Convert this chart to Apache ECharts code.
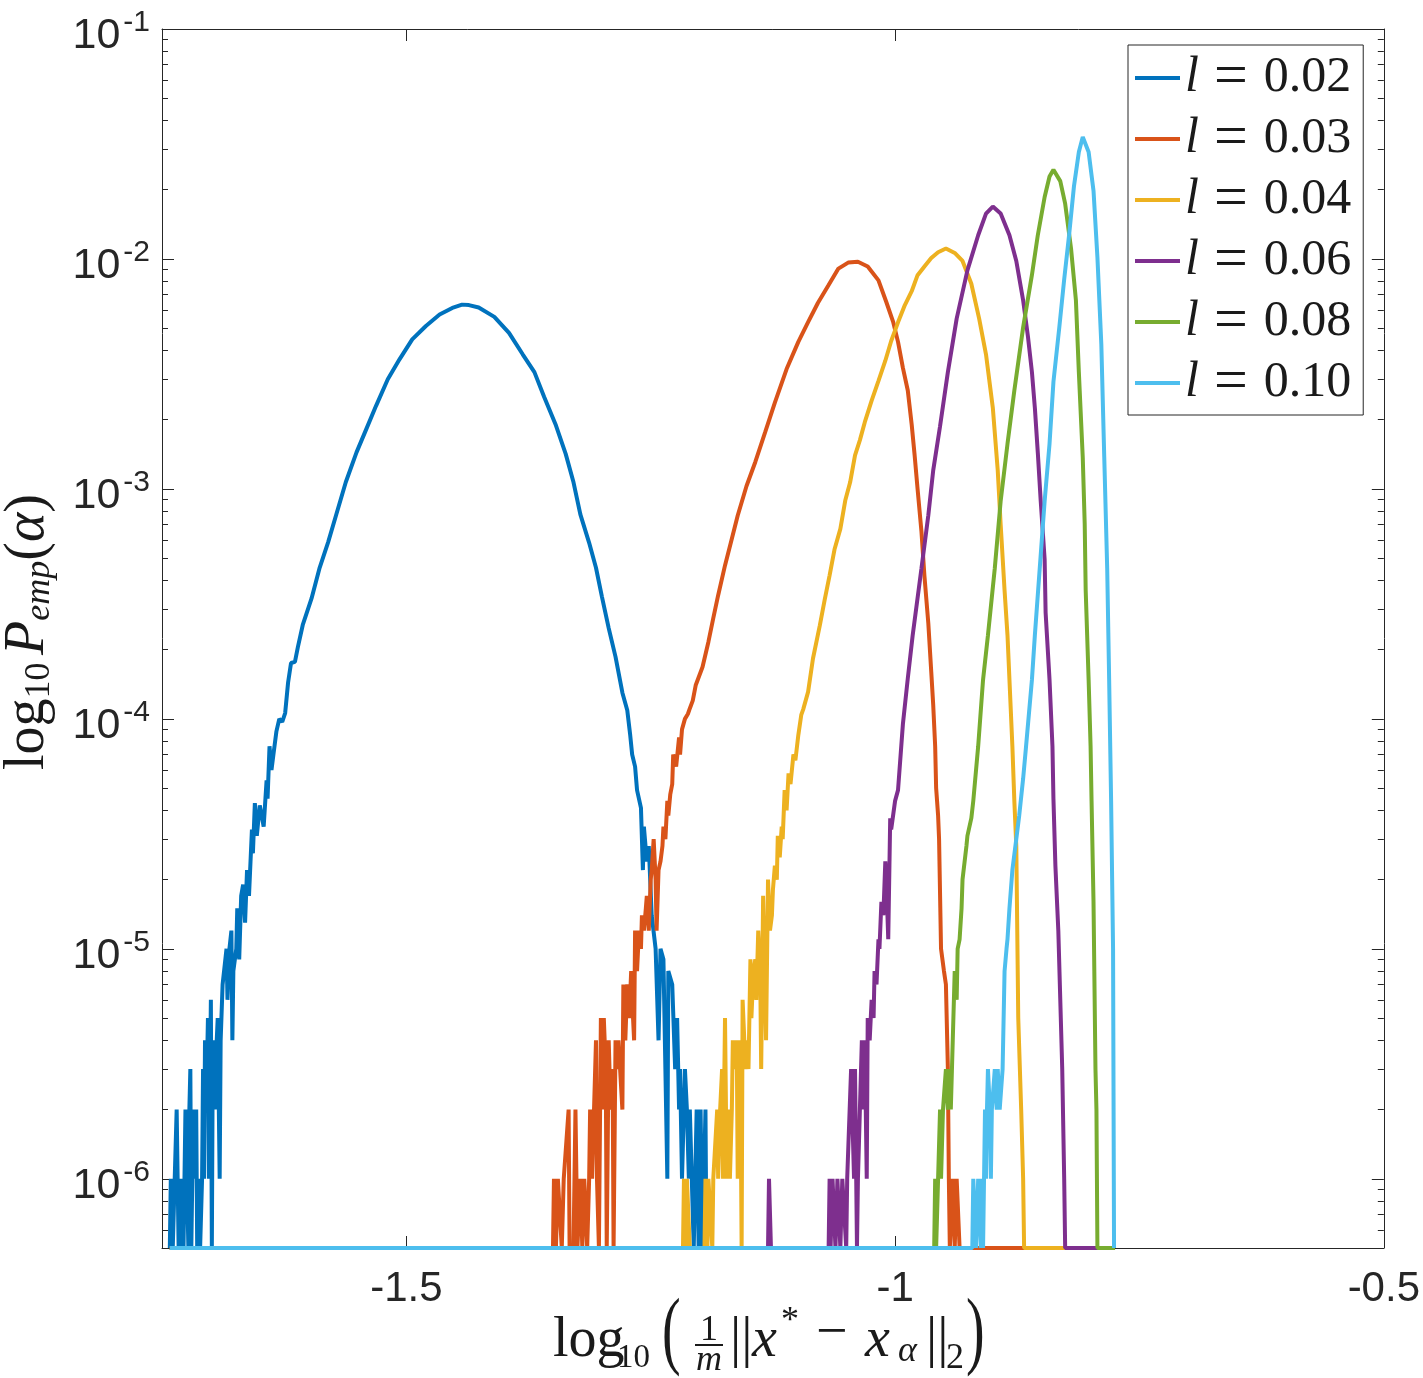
<!DOCTYPE html>
<html lang="en">
<head>
    <meta charset="UTF-8">
    <title>P_emp(alpha)</title>
    <script src="https://cdn.jsdelivr.net/npm/echarts@6/dist/echarts.min.js"></script>
    <style>
        html, body { margin: 0; padding: 0; background: #fff; }
        #box { width: 1423px; height: 1378px; }
    </style>
</head>
<body>
<div id="box"></div>
<script>
    // counts per million per bin; 0 = empty bin (drawn on the lower limit)
    var lengths = ['0.02', '0.03', '0.04', '0.06', '0.08', '0.10'];
    var colors = ['#0072BD', '#D95319', '#EDB120', '#7E2F8E', '#77AC30', '#4DBEEE'];
    var xTicks = [-1.5, -1, -0.5];
    var yTicks = [1e-6, 1e-5, 1e-4, 1e-3, 1e-2, 1e-1];
    var FLOOR = 5e-7;

    var x02 = [
        -1.742,-1.741,-1.739,-1.735,-1.733,-1.732,-1.731,-1.729,-1.728,-1.727,
        -1.726,-1.723,-1.722,-1.721,-1.720,-1.718,-1.716,-1.715,-1.714,-1.713,
        -1.711,-1.709,-1.708,-1.707,-1.706,-1.704,-1.703,-1.702,-1.700,-1.699,
        -1.698,-1.696,-1.694,-1.693,-1.691,-1.690,-1.688,-1.686,-1.684,-1.683,
        -1.681,-1.679,-1.678,-1.677,-1.674,-1.673,-1.671,-1.669,-1.667,-1.665,
        -1.663,-1.661,-1.658,-1.657,-1.655,-1.653,-1.650,-1.648,-1.646,-1.643,
        -1.642,-1.640,-1.638,-1.636,-1.633,-1.630,-1.627,-1.624,-1.621,-1.618,
        -1.614,-1.611,-1.606,-1.597,-1.589,-1.580,-1.572,-1.562,-1.551,-1.541,
        -1.531,-1.519,-1.507,-1.494,-1.480,-1.466,-1.453,-1.443,-1.436,-1.426,
        -1.410,-1.395,-1.381,-1.369,-1.359,-1.347,-1.337,-1.329,-1.322,-1.313,
        -1.306,-1.300,-1.293,-1.286,-1.279,-1.274,-1.271,-1.269,-1.266,-1.264,
        -1.260,-1.258,-1.257,-1.254,-1.252,-1.249,-1.245,-1.242,-1.240,-1.237,
        -1.233,-1.232,-1.228,-1.225,-1.223,-1.221,-1.220,-1.218,-1.215,-1.213,
        -1.211,-1.210,-1.208,-1.206,-1.203,-1.201,-1.199,-1.197,-1.194,-1.193,
        -0.775];
    var n02 = [
        0,1,0,2,0,1,0,1,0,1,
        2,0,2,3,0,2,1,2,0,1,
        0,1,3,1,4,3,5,1,6,0,
        4,2,4,5,1,4,7,7,10,6,
        10,12,4,8,10,15,9,17,19,13,
        22,17,33,26,43,31,42,38,34,54,
        45,76,60,70,88,100,97,106,144,175,
        177,205,256,334,450,587,766,1069,1442,1820,
        2298,2997,3660,4470,5110,5730,6125,6330,6300,6150,
        5600,4770,3850,3220,2510,1890,1420,1068,775,583,
        454,341,248,186,130,109,85,70,62,49,
        41,22,34,24,28,14,10,4,10,9,
        1,8,7,3,5,2,3,1,3,2,
        1,2,2,0,2,0,2,0,2,0,
        0];

    var x03 = [
        -1.742,-1.350,-1.349,-1.347,-1.345,-1.343,-1.341,-1.339,-1.337,-1.334,
        -1.333,-1.329,-1.327,-1.325,-1.322,-1.320,-1.318,-1.316,-1.315,-1.313,
        -1.312,-1.310,-1.308,-1.306,-1.305,-1.303,-1.301,-1.299,-1.298,-1.296,
        -1.295,-1.293,-1.291,-1.289,-1.288,-1.286,-1.284,-1.283,-1.281,-1.279,
        -1.278,-1.276,-1.274,-1.272,-1.270,-1.269,-1.267,-1.266,-1.264,-1.262,
        -1.260,-1.259,-1.257,-1.255,-1.254,-1.252,-1.250,-1.249,-1.247,-1.245,
        -1.244,-1.242,-1.240,-1.238,-1.237,-1.235,-1.233,-1.232,-1.230,-1.228,
        -1.227,-1.224,-1.221,-1.220,-1.218,-1.215,-1.212,-1.210,-1.207,-1.204,
        -1.197,-1.191,-1.186,-1.181,-1.174,-1.168,-1.161,-1.152,-1.143,-1.133,
        -1.123,-1.111,-1.099,-1.089,-1.079,-1.068,-1.058,-1.048,-1.038,-1.028,
        -1.017,-1.009,-1.002,-0.997,-0.992,-0.987,-0.983,-0.980,-0.977,-0.973,
        -0.970,-0.966,-0.963,-0.961,-0.959,-0.958,-0.956,-0.955,-0.953,-0.950,
        -0.948,-0.946,-0.945,-0.944,-0.943,-0.941,-0.939,-0.937,-0.936,-0.934,
        -0.775];
    var n03 = [
        0,0,1,0,1,1,0,1,1,2,
        0,0,2,0,1,0,1,1,0,1,
        2,1,2,4,1,0,5,2,5,3,
        0,4,2,3,0,4,3,4,4,2,
        7,4,7,5,8,6,4,12,8,12,
        10,14,12,15,17,12,20,22,30,20,
        12,22,24,28,34,30,44,38,47,52,
        70,62,83,70,90,100,105,111,120,140,
        168,216,274,345,465,585,766,1030,1310,1760,
        2373,3320,4360,5310,6435,7700,9080,9640,9720,9270,
        8070,6500,5330,4360,3360,2680,1900,1400,1000,650,
        420,260,160,115,76,50,38,30,10,8,
        7,3,1,0,0,1,0,1,1,0,
        0];

    var x04 = [
        -1.742,-1.217,-1.216,-1.214,-1.213,-1.211,-1.210,-1.195,-1.194,-1.192,
        -1.191,-1.189,-1.187,-1.186,-1.184,-1.182,-1.181,-1.179,-1.177,-1.176,
        -1.174,-1.173,-1.172,-1.170,-1.169,-1.167,-1.166,-1.164,-1.162,-1.161,
        -1.159,-1.158,-1.157,-1.156,-1.153,-1.152,-1.150,-1.148,-1.147,-1.145,
        -1.143,-1.142,-1.140,-1.138,-1.137,-1.135,-1.132,-1.130,-1.128,-1.126,
        -1.125,-1.123,-1.121,-1.120,-1.118,-1.116,-1.115,-1.113,-1.111,-1.109,
        -1.107,-1.104,-1.102,-1.099,-1.096,-1.094,-1.089,-1.084,-1.077,-1.072,
        -1.067,-1.062,-1.056,-1.051,-1.046,-1.041,-1.036,-1.031,-1.024,-1.017,
        -1.010,-1.004,-0.997,-0.990,-0.983,-0.977,-0.970,-0.963,-0.956,-0.948,
        -0.939,-0.931,-0.922,-0.914,-0.907,-0.900,-0.895,-0.892,-0.888,-0.885,
        -0.883,-0.880,-0.878,-0.876,-0.874,-0.871,-0.869,-0.868,-0.775];
    var n04 = [
        0,0,1,0,1,1,0,0,1,0,
        1,1,0,1,1,2,1,2,3,1,
        5,2,1,2,1,2,4,3,4,1,
        4,2,0,6,3,4,3,9,5,8,
        9,6,12,8,3,17,4,20,12,14,
        18,23,20,31,25,34,30,49,40,58,
        52,70,66,85,104,110,131,183,255,330,
        421,545,670,890,1068,1400,1630,1950,2420,2950,
        3610,4400,5300,6300,7240,8500,9270,10100,10700,11100,
        10620,9800,7800,5500,3850,2250,1206,702,362,231,
        148,76,44,28,5,2,1,0,0];

    var x06 = [
        -1.742,-1.130,-1.129,-1.127,-1.068,-1.067,-1.066,-1.064,-1.062,-1.061,
        -1.059,-1.057,-1.056,-1.054,-1.052,-1.050,-1.049,-1.047,-1.045,-1.044,
        -1.042,-1.041,-1.039,-1.038,-1.036,-1.034,-1.033,-1.031,-1.029,-1.028,
        -1.026,-1.024,-1.022,-1.021,-1.019,-1.017,-1.016,-1.014,-1.012,-1.010,
        -1.009,-1.007,-1.005,-1.004,-1.000,-0.997,-0.992,-0.987,-0.982,-0.973,
        -0.966,-0.961,-0.954,-0.946,-0.937,-0.926,-0.915,-0.907,-0.900,-0.892,
        -0.883,-0.876,-0.869,-0.864,-0.860,-0.857,-0.854,-0.851,-0.847,-0.846,
        -0.842,-0.839,-0.838,-0.836,-0.833,-0.831,-0.829,-0.827,-0.826,-0.775];
    var n06 = [
        0,0,1,0,0,1,0,1,1,0,
        1,1,0,1,1,0,1,1,3,3,
        1,3,0,1,2,4,2,4,1,5,
        4,6,5,8,7,11,10,16,14,24,
        20,11,37,33,44,49,95,150,231,452,
        768,1204,1874,3220,5500,8925,12680,15750,16900,15750,
        12680,9800,6610,4570,3220,2250,1440,885,494,290,
        148,76,45,23,12,6,3,1,0,0];

    var x08 = [
        -1.742,-0.960,-0.959,-0.958,-0.956,-0.954,-0.953,-0.951,-0.949,-0.948,
        -0.946,-0.944,-0.943,-0.941,-0.939,-0.937,-0.936,-0.934,-0.932,-0.931,
        -0.929,-0.927,-0.926,-0.922,-0.920,-0.915,-0.910,-0.905,-0.898,-0.892,
        -0.885,-0.878,-0.869,-0.860,-0.854,-0.847,-0.842,-0.838,-0.831,-0.826,
        -0.820,-0.815,-0.812,-0.808,-0.806,-0.805,-0.802,-0.800,-0.799,-0.797,
        -0.795,-0.794,-0.793,-0.775];
    var n08 = [
        0,0,1,0,1,2,1,2,2,3,
        2,3,2,4,8,6,10,11,15,20,
        20,28,31,37,44,76,148,231,452,885,
        1570,2680,5040,8520,12680,18600,22850,24450,21800,17400,
        11100,6610,3220,1370,702,362,148,76,44,16,
        3,2,0,0];

    var x10 = [
        -1.742,-0.921,-0.920,-0.918,-0.917,-0.915,-0.913,-0.912,-0.911,-0.910,
        -0.908,-0.907,-0.906,-0.905,-0.903,-0.902,-0.901,-0.899,-0.898,-0.896,
        -0.895,-0.893,-0.892,-0.890,-0.888,-0.886,-0.885,-0.883,-0.880,-0.876,
        -0.873,-0.869,-0.866,-0.860,-0.857,-0.852,-0.847,-0.842,-0.838,-0.832,
        -0.827,-0.822,-0.817,-0.812,-0.808,-0.802,-0.797,-0.793,-0.789,-0.786,
        -0.783,-0.781,-0.779,-0.777,-0.776];
    var n10 = [
        0,0,1,1,0,1,1,0,1,0,
        2,1,2,3,2,1,2,2,3,2,
        3,2,2,3,8,10,11,15,22,30,
        38,55,76,148,231,452,885,1570,2920,5040,
        8150,12680,20700,29200,33900,29200,19800,10160,4240,1370,
        452,148,44,10,0];

    var xs = [x02, x03, x04, x06, x08, x10];
    var ns = [n02, n03, n04, n06, n08, n10];

    function toPoints(x, n) {
        return x.map(function (v, i) {
            return [v, n[i] > 0 ? n[i] * 1e-6 : FLOOR];
        });
    }

    var minorTicks = [];
    for (var e = -7; e <= -2; e++) {
        for (var k = 2; k <= 9; k++) {
            var v = k * Math.pow(10, e);
            if (v > FLOOR * 1.01 && v < 0.1) minorTicks.push(v);
        }
    }

    var ink = '#262626';
    var serif = 'Liberation Serif';
    var axisLine = {show: true, onZero: false, lineStyle: {color: ink, width: 1}};

    function yAxis(pos, ticks, len, withLine, withLabel) {
        return {
            type: 'log', logBase: 10, min: FLOOR, max: 0.1, position: pos,
            axisLine: withLine ? axisLine : {show: false},
            axisTick: {show: true, inside: true, length: len, customValues: ticks,
                       lineStyle: {color: ink, width: 1}},
            axisLabel: withLabel ? {
                customValues: yTicks, margin: 12,
                formatter: function (val) {
                    return '{b|10}{s|' + Math.round(Math.log10(val)) + '}';
                },
                rich: {
                    b: {fontSize: 43, fontFamily: 'Liberation Sans', color: ink,
                        lineHeight: 43, padding: [15, 0, 0, 0]},
                    s: {fontSize: 30, fontFamily: 'Liberation Sans', color: ink,
                        lineHeight: 28, verticalAlign: 'top', padding: [0, 0, 0, 3]}
                }
            } : {show: false},
            splitLine: {show: false},
            minorTick: {show: false}
        };
    }

    function xAxis(pos, withLabel) {
        return {
            type: 'value', min: -1.75, max: -0.5, position: pos,
            axisLine: axisLine,
            axisTick: {show: true, inside: true, length: 12, customValues: xTicks,
                       lineStyle: {color: ink, width: 1}},
            axisLabel: withLabel ? {customValues: xTicks, fontSize: 42,
                fontFamily: 'Liberation Sans', color: ink, margin: 20} : {show: false},
            splitLine: {show: false}
        };
    }

    var series = lengths.map(function (l, i) {
        return {
            name: 'l = ' + l,
            type: 'line',
            data: toPoints(xs[i], ns[i]),
            showSymbol: false,
            symbol: 'none',
            clip: false,
            lineStyle: {color: colors[i], width: 4},
            itemStyle: {color: colors[i]}
        };
    });

    function t(x, y, text, size, extra) {
        var el = {type: 'text', x: x, y: y, silent: true,
            style: {text: text, fontSize: size, fontFamily: serif, fill: '#1a1a1a',
                    align: 'left', verticalAlign: 'middle'}};
        if (extra) {
            for (var key in extra) {
                if (key === 'style') Object.assign(el.style, extra.style);
                else el[key] = extra[key];
            }
        }
        return el;
    }

    var titleX = [
        t(553, 1341, 'log', 56),
        t(617, 1358, '10', 33),
        t(662, 1335, '(', 56, {scaleY: 1.55}),
        t(709, 1331, '1', 36, {style: {align: 'center'}}),
        {type: 'line', silent: true, shape: {x1: 695, y1: 1345, x2: 723, y2: 1345},
         style: {stroke: '#1a1a1a', lineWidth: 2}},
        t(709, 1361, 'm', 36, {style: {align: 'center', fontStyle: 'italic'}}),
        t(730, 1341, '||', 56),
        t(752, 1341, 'x', 56, {style: {fontStyle: 'italic'}}),
        t(781, 1322, '*', 36),
        t(816, 1334, '\u2212', 56),
        t(865, 1341, 'x', 56, {style: {fontStyle: 'italic'}}),
        t(898, 1352, '\u03b1', 36, {style: {fontStyle: 'italic'}}),
        t(926, 1341, '||', 56),
        t(946, 1359, '2', 36),
        t(966, 1335, ')', 56, {scaleY: 1.55})
    ];

    var titleY = {
        type: 'text', x: 28, y: 632, rotation: Math.PI / 2, silent: true,
        style: {
            text: '{n|log}{d|10}{g| }{i|P}{di|emp}{n|(}{i|\u03b1}{n|)}',
            align: 'center', verticalAlign: 'middle',
            rich: {
                n: {fontSize: 56, fontFamily: serif, fill: '#1a1a1a', lineHeight: 60},
                i: {fontSize: 56, fontFamily: serif, fontStyle: 'italic', fill: '#1a1a1a', lineHeight: 60},
                d: {fontSize: 36, fontFamily: serif, fill: '#1a1a1a', lineHeight: 25, verticalAlign: 'bottom'},
                di: {fontSize: 36, fontFamily: serif, fontStyle: 'italic', fill: '#1a1a1a', lineHeight: 25, verticalAlign: 'bottom'},
                g: {fontSize: 30, fontFamily: serif, lineHeight: 25}
            }
        }
    };

    var chart = echarts.init(document.getElementById('box'));
    chart.setOption({
        animation: false,
        backgroundColor: '#ffffff',
        grid: {left: 162, top: 25, width: 1223, height: 1223, containLabel: false},
        xAxis: [xAxis('bottom', true), xAxis('top', false)],
        yAxis: [
            yAxis('left', yTicks, 12, true, true),
            yAxis('left', minorTicks, 6, false, false),
            yAxis('right', yTicks, 12, true, false),
            yAxis('right', minorTicks, 6, false, false)
        ],
        legend: {
            orient: 'vertical', left: 1128, top: 45,
            padding: [3, 12, 2, 7], itemGap: 1, itemWidth: 45, itemHeight: 4,
            icon: 'rect',
            borderColor: ink, borderWidth: 1, backgroundColor: '#ffffff',
            selectedMode: false,
            data: series.map(function (s) { return s.name; }),
            formatter: function (name) {
                return '{i|l}{eq|=}{n|' + name.split('= ')[1] + '}';
            },
            textStyle: {
                fontFamily: serif, fontSize: 50, color: '#1a1a1a',
                rich: {
                    i: {fontFamily: serif, fontStyle: 'italic', fontSize: 50, lineHeight: 50},
                    eq: {fontFamily: serif, fontSize: 60, lineHeight: 50, padding: [0, 16, 0, 15]},
                    n: {fontFamily: serif, fontSize: 50, lineHeight: 50}
                }
            }
        },
        graphic: titleX.concat([titleY]),
        series: series
    });
</script>
</body>
</html>
